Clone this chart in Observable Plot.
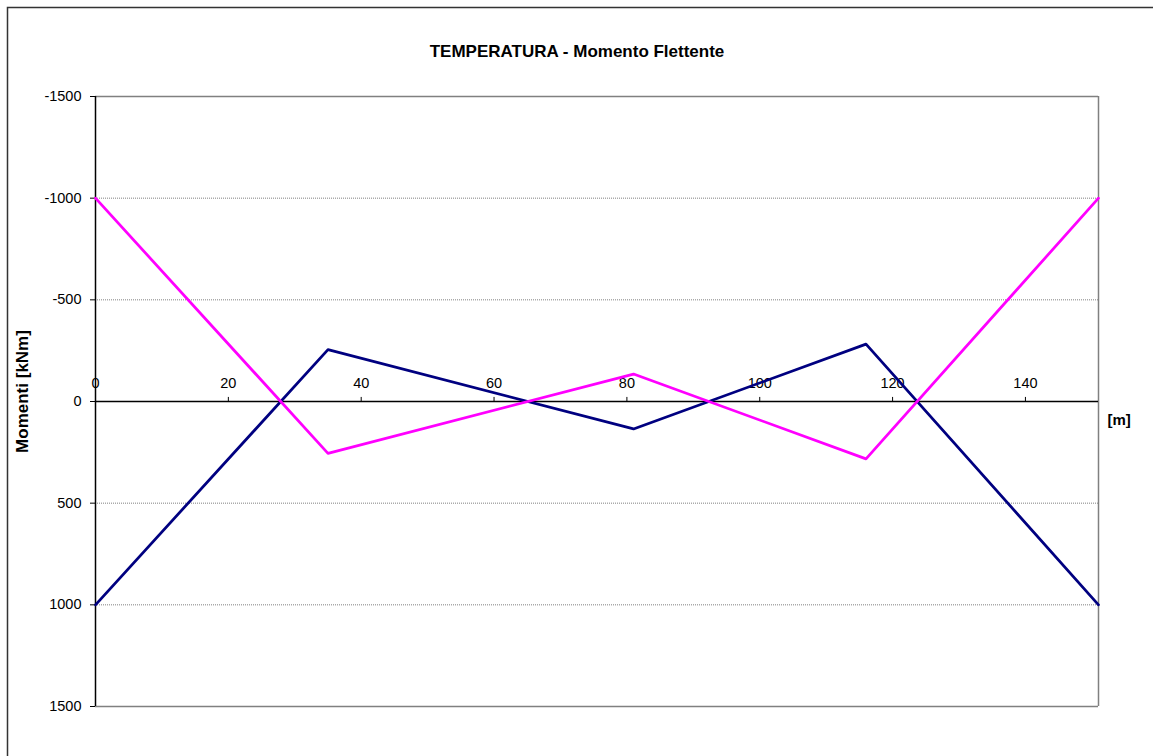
<!DOCTYPE html>
<html>
<head>
<meta charset="utf-8">
<script src="https://cdn.jsdelivr.net/npm/d3@7"></script>
<script src="https://cdn.jsdelivr.net/npm/@observablehq/plot@0.6"></script>
<style>
  html, body { margin: 0; padding: 0; background: #fff; }
  #chart svg { display: block; }
</style>
</head>
<body>
<div id="chart"></div>
<script>
// Data
const positions = [0, 35, 81, 116, 151];           // [m]
const seriesBlue = [1000, -255, 135, -282, 1000];   // kNm
const seriesMagenta = [-1000, 255, -135, 282, -1000];
const yTicks = [-1500, -1000, -500, 0, 500, 1000, 1500];
const yGrid = [-1000, -500, 500, 1000];
const xTicks = [0, 20, 40, 60, 80, 100, 120, 140];
const xMax = 151;
const title = "TEMPERATURA - Momento Flettente";
const yLabel = "Momenti [kNm]";
const xLabel = "[m]";

const blue = positions.map((x, i) => ({x, y: seriesBlue[i]}));
const magenta = positions.map((x, i) => ({x, y: seriesMagenta[i]}));

const W = 1153, H = 756;
const font = "Liberation Sans, Arial, sans-serif";

const outerBorder = (index, scales, values, dims) => {
  const g = d3.create("svg:g");
  g.append("rect")
    .attr("x", 7.5).attr("y", 7.5)
    .attr("width", dims.width + 10).attr("height", dims.height + 10)
    .attr("fill", "none").attr("stroke", "#333").attr("stroke-width", 1.5);
  return g.node();
};

const chart = Plot.plot({
  width: W,
  height: H,
  marginLeft: 95,
  marginRight: 55,
  marginTop: 96,
  marginBottom: 50,
  style: {fontFamily: font, fontSize: "14.5px", color: "#000", background: "#fff"},
  x: {type: "linear", domain: [0, xMax], axis: null},
  y: {type: "linear", domain: [-1500, 1500], reverse: true, axis: null},
  marks: [
    outerBorder,
    Plot.ruleY(yGrid, {stroke: "#808080", strokeWidth: 1, strokeDasharray: "1,1"}),
    Plot.ruleY([yTicks[0], yTicks[yTicks.length - 1]], {stroke: "#808080", strokeWidth: 1.5}),
    Plot.ruleX([xMax], {stroke: "#808080", strokeWidth: 1.5}),
    Plot.axisY({ticks: yTicks, tickFormat: d => String(d), tickSize: 5, tickPadding: 9,
      fontSize: "14.5px", stroke: "#000", label: null}),
    Plot.ruleX([0], {stroke: "#000", strokeWidth: 1.5}),
    Plot.ruleY([0], {stroke: "#000", strokeWidth: 1.5}),
    Plot.ruleX(xTicks.slice(1), {x: d => d, y1: 0, y2: -20, stroke: "#000", strokeWidth: 1}),
    Plot.text(xTicks, {x: d => d, y: 0, dy: -18, text: d => String(d), fontSize: "14.5px", fill: "#000"}),
    Plot.line(blue, {x: "x", y: "y", stroke: "#000080", strokeWidth: 2.75}),
    Plot.line(magenta, {x: "x", y: "y", stroke: "#FF00FF", strokeWidth: 2.75}),
    Plot.text([title], {frameAnchor: "top", dx: -20, dy: -52, text: d => d,
      fontWeight: "bold", fontSize: "17px", fill: "#000"}),
    Plot.text([yLabel], {frameAnchor: "left", textAnchor: "middle", dx: -73, dy: -10, rotate: -90,
      text: d => d, fontWeight: "bold", fontSize: "17px", fill: "#000"}),
    Plot.text([xLabel], {x: xMax, y: 0, dx: 9, dy: 19, textAnchor: "start", text: d => d,
      fontWeight: "bold", fontSize: "15px", fill: "#000"})
  ]
});

document.getElementById("chart").appendChild(chart);
</script>
</body>
</html>
